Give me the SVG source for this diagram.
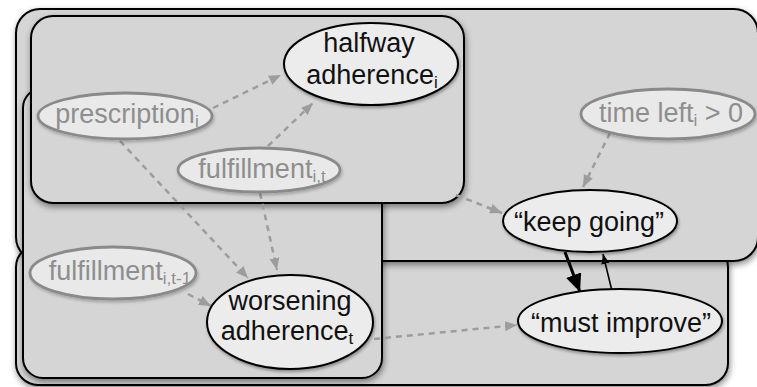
<svg xmlns="http://www.w3.org/2000/svg" width="757" height="387" viewBox="0 0 757 387">
  <defs>
    <style>
      .plate { fill: #d6d5d6; stroke: #000; stroke-width: 2; filter: url(#plateShadow); }
      .obs ellipse { fill: #e9e9e9; stroke: #8a8a8a; stroke-width: 2.8; filter: url(#soft); }
      .obs text { fill: #8e8e8e; }
      .lat ellipse { fill: #ececec; stroke: #000; stroke-width: 2; filter: url(#nodeShadow); }
      .lat text { fill: #111; }
      text { font-family: "Liberation Sans", Arial, Helvetica, sans-serif; font-size: 27px; text-anchor: middle; }
      .sub { font-size: 17px; }
      .dep { fill: none; stroke: #9d9d9d; stroke-width: 2.5; stroke-dasharray: 6 5; marker-end: url(#grayHead); }
      .strong { fill: none; stroke: #000; stroke-width: 3; marker-end: url(#bigHead); }
      .weak { fill: none; stroke: #000; stroke-width: 1.6; marker-end: url(#smallHead); }
    </style>
    <filter id="plateShadow" x="-5%" y="-5%" width="115%" height="120%">
      <feDropShadow dx="1" dy="3" stdDeviation="3" flood-color="#000" flood-opacity="0.45"/>
    </filter>
    <filter id="nodeShadow" x="-10%" y="-10%" width="125%" height="130%">
      <feDropShadow dx="1" dy="2" stdDeviation="1.5" flood-color="#000" flood-opacity="0.35"/>
    </filter>
    <filter id="soft" x="-10%" y="-15%" width="125%" height="135%">
      <feGaussianBlur in="SourceGraphic" stdDeviation="0.6" result="b"/>
      <feDropShadow in="b" dx="1" dy="2" stdDeviation="1.5" flood-color="#000" flood-opacity="0.25"/>
    </filter>
    <marker id="grayHead" markerUnits="userSpaceOnUse" markerWidth="13" markerHeight="11" refX="12" refY="5" orient="auto">
      <path d="M0,0 L12,5 L0,10 z" fill="#9d9d9d"/>
    </marker>
    <marker id="bigHead" markerUnits="userSpaceOnUse" markerWidth="20" markerHeight="18" refX="18" refY="8" orient="auto">
      <path d="M0,0 L18,8 L0,16 z" fill="#000"/>
    </marker>
    <marker id="smallHead" markerUnits="userSpaceOnUse" markerWidth="11" markerHeight="9" refX="10" refY="4" orient="auto">
      <path d="M0,0 L10,4 L0,8 z" fill="#000"/>
    </marker>
  </defs>

  <rect width="757" height="387" fill="#fff"/>

  <!-- plates, back to front -->
  <g id="plates">
    <rect id="plate-improve" class="plate" x="16" y="245" width="712" height="140" rx="22"/>
    <rect id="plate-keep" class="plate" x="16" y="9" width="742" height="252" rx="24"/>
    <rect id="plate-worsening" class="plate" x="23" y="88" width="359" height="290" rx="20"/>
    <rect id="plate-halfway" class="plate" x="31" y="16" width="433" height="187" rx="22"/>
  </g>

  <!-- connectors -->
  <g id="connectors">
    <path class="dep" d="M213,108 L281,75"/>
    <path class="dep" d="M268,146 L313,103"/>
    <path class="dep" d="M120,141 L248,278"/>
    <path class="dep" d="M260,193 L277,270"/>
    <path class="dep" d="M188,294 L211,306"/>
    <path class="dep" d="M610,133 L583,187"/>
    <path class="dep" d="M456,195 L502,213"/>
    <path class="dep" d="M374,339 L517,325"/>
    <path class="strong" d="M565,252 L580,292"/>
    <path class="weak" d="M612,291 L603,254"/>
  </g>

  <!-- nodes -->
  <g id="halfway" class="lat">
    <ellipse cx="371" cy="64" rx="87" ry="41"/>
    <text x="369" y="52">halfway</text>
    <text x="372" y="84">adherence<tspan class="sub" dy="4">i</tspan></text>
  </g>

  <g id="prescription" class="obs">
    <ellipse cx="125" cy="116" rx="87" ry="23"/>
    <text x="127" y="123">prescription<tspan class="sub" dy="4">i</tspan></text>
  </g>

  <g id="fulfillment-t" class="obs">
    <ellipse cx="259" cy="170" rx="81" ry="22"/>
    <text x="262" y="178">fulfillment<tspan class="sub" dy="4">i,t</tspan></text>
  </g>

  <g id="time-left" class="obs">
    <ellipse cx="668" cy="114" rx="87" ry="25"/>
    <text x="671" y="122">time left<tspan class="sub" dy="4">i</tspan><tspan dy="-4"> &gt; 0</tspan></text>
  </g>

  <g id="keep-going" class="lat">
    <ellipse cx="590" cy="221" rx="87" ry="31"/>
    <text x="589" y="231">“keep going”</text>
  </g>

  <g id="fulfillment-prev" class="obs">
    <ellipse cx="113" cy="273" rx="83" ry="26"/>
    <text x="120" y="280">fulfillment<tspan class="sub" dy="4">i,t-1</tspan></text>
  </g>

  <g id="worsening" class="lat">
    <ellipse cx="290" cy="322" rx="83" ry="47"/>
    <text x="290" y="310">worsening</text>
    <text x="287" y="340">adherence<tspan class="sub" dy="4">t</tspan></text>
  </g>

  <g id="must-improve" class="lat">
    <ellipse cx="620" cy="321" rx="102" ry="32"/>
    <text x="621" y="332">“must improve”</text>
  </g>
</svg>
